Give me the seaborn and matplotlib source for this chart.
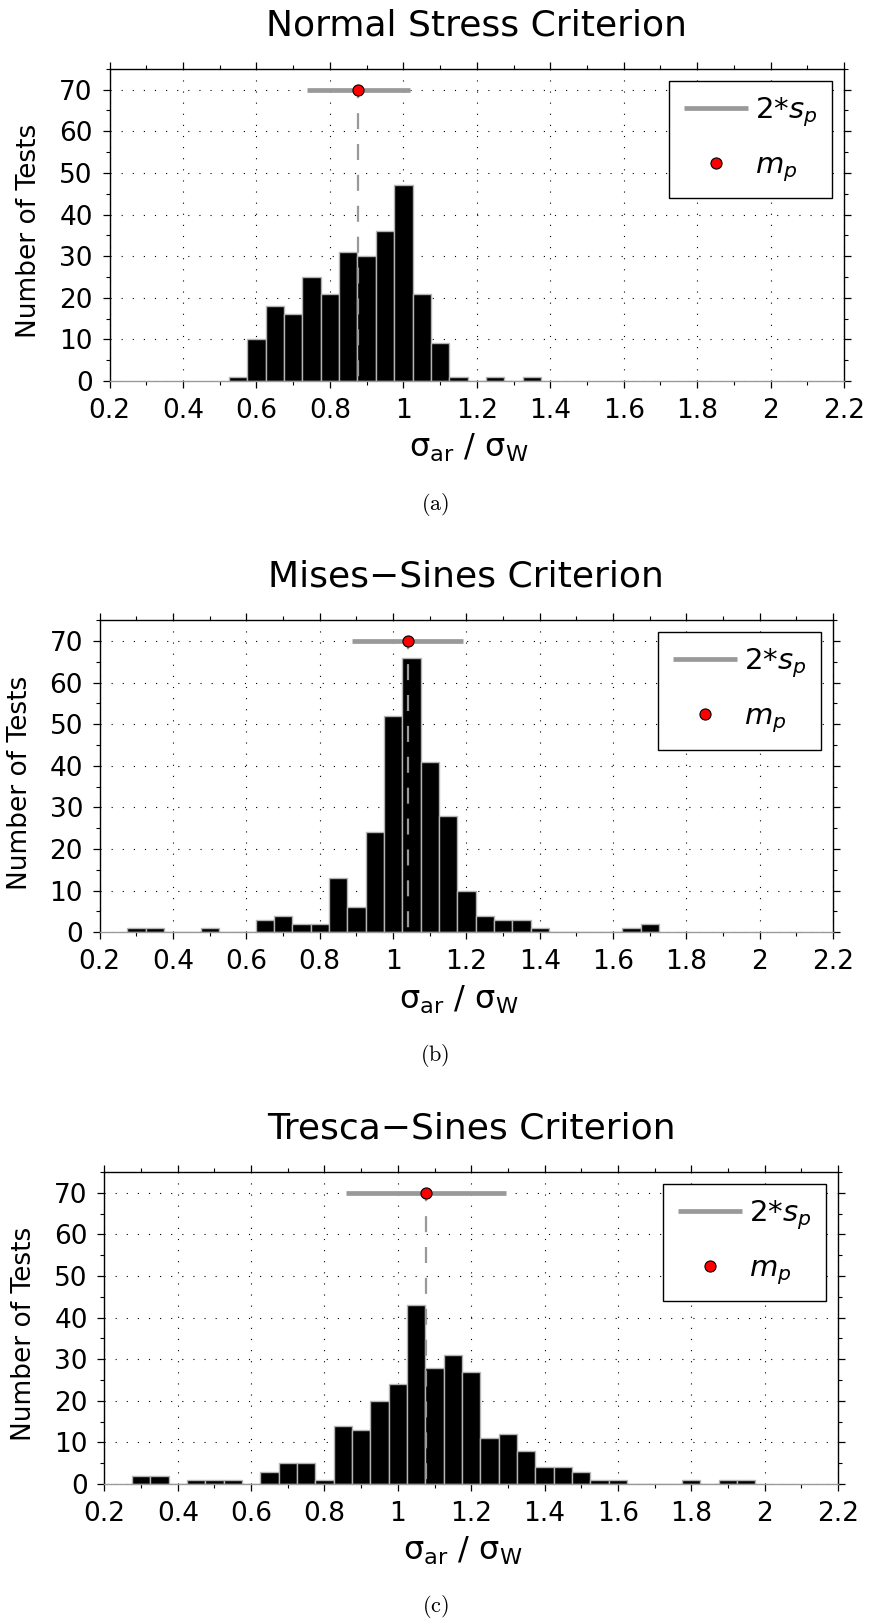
import numpy as np
import pandas as pd
import matplotlib
matplotlib.use("Agg")
import matplotlib.pyplot as plt
import seaborn as sns
from matplotlib.ticker import MultipleLocator, FuncFormatter

# Histogram bins (width 0.05)
normal_centers = [0.55, 0.60, 0.65, 0.70, 0.75, 0.80, 0.85, 0.90, 0.95, 1.00,
                  1.05, 1.10, 1.15, 1.20, 1.25, 1.30, 1.35]
normal_counts = [1, 10, 18, 16, 25, 21, 31, 30, 36, 47, 21, 9, 1, 0, 1, 0, 1]

mises_centers = [0.30, 0.35, 0.40, 0.45, 0.50, 0.55, 0.60, 0.65, 0.70, 0.75,
                 0.80, 0.85, 0.90, 0.95, 1.00, 1.05, 1.10, 1.15, 1.20, 1.25,
                 1.30, 1.35, 1.40, 1.45, 1.50, 1.55, 1.60, 1.65, 1.70]
mises_counts = [1, 1, 0, 0, 1, 0, 0, 3, 4, 2, 2, 13, 6, 24, 52, 66, 41, 28, 10, 4,
                3, 3, 1, 0, 0, 0, 0, 1, 2]

tresca_centers = [0.30, 0.35, 0.40, 0.45, 0.50, 0.55, 0.60, 0.65, 0.70, 0.75,
                  0.80, 0.85, 0.90, 0.95, 1.00, 1.05, 1.10, 1.15, 1.20, 1.25,
                  1.30, 1.35, 1.40, 1.45, 1.50, 1.55, 1.60, 1.65, 1.70, 1.75,
                  1.80, 1.85, 1.90, 1.95]
tresca_counts = [2, 2, 0, 1, 1, 1, 0, 3, 5, 5, 1, 14, 13, 20, 24, 43, 28, 31, 27, 11,
                 12, 8, 4, 4, 3, 1, 1, 0, 0, 0, 1, 0, 1, 1]

# mean m_p and half-length of the 2*s_p bar
means = [0.877, 1.040, 1.076]
spreads = [0.140, 0.151, 0.218]
marker_level = 70

titles = ["Normal Stress Criterion", "Mises\u2212Sines Criterion", "Tresca\u2212Sines Criterion"]
captions = ["a", "b", "c"]

sns.set_style("ticks")
plt.rcParams['font.family'] = ['DejaVu Sans']
plt.rcParams['mathtext.fontset'] = 'dejavusans'
plt.rcParams['text.color'] = 'black'
plt.rcParams['axes.labelcolor'] = 'black'

fig = plt.figure(figsize=(8.7, 16.21), dpi=100)
axes_rects = [[0.1259, 0.7650, 0.8443, 0.1925],
              [0.1146, 0.4249, 0.8429, 0.1925],
              [0.1200, 0.0845, 0.8432, 0.1925]]
caption_y = [0.689, 0.3486, 0.009]

panels = [(normal_centers, normal_counts), (mises_centers, mises_counts),
          (tresca_centers, tresca_counts)]

for i, (centers, counts) in enumerate(panels):
    ax = fig.add_axes(axes_rects[i])
    df = pd.DataFrame({'ratio': centers, 'count': counts})
    edges = [c - 0.025 for c in centers] + [centers[-1] + 0.025]
    sns.histplot(data=df, x='ratio', weights='count', bins=edges, ax=ax,
                 color='black', edgecolor='#b4b4b4', linewidth=1.0, alpha=1)

    m, h = means[i], spreads[i]
    ax.plot([m, m], [marker_level, 0], color='#999999', lw=1.6,
            linestyle=(3.5, (7.2, 6.7)), zorder=3)
    ax.plot([m - h, m + h], [marker_level, marker_level], color='#999999', lw=3.4,
            solid_capstyle='butt', zorder=4, label='2*$s_p$')
    ax.plot([m], [marker_level], 'o', mfc='red', mec='black', ms=8, mew=0.8,
            zorder=5, label='$m_p$')

    ax.set_xlim(0.2, 2.2)
    ax.set_ylim(0, 75)
    ax.xaxis.set_major_locator(MultipleLocator(0.2))
    ax.xaxis.set_minor_locator(MultipleLocator(0.1))
    ax.yaxis.set_major_locator(MultipleLocator(10))
    ax.yaxis.set_minor_locator(MultipleLocator(5))
    ax.xaxis.set_major_formatter(FuncFormatter(lambda v, p: f'{v:g}'))
    ax.tick_params(which='both', direction='out', top=True, right=True,
                   labeltop=False, labelright=False, colors='black')
    ax.tick_params(which='major', length=5, width=0.9, labelsize=19, pad=7)
    ax.tick_params(which='minor', length=3, width=0.8)
    for side in ['left', 'right', 'top']:
        ax.spines[side].set_color('black')
        ax.spines[side].set_linewidth(1.0)
    ax.spines['bottom'].set_color('#9a9a9a')
    ax.spines['bottom'].set_linewidth(1.0)

    ax.set_axisbelow(True)
    ax.grid(True, which='major', color='black', lw=0.8, linestyle=(0, (1, 9)))

    ax.set_xlabel('')
    ax.set_ylabel('')
    ax.text(-0.109, 0.48, 'Number of Tests', transform=ax.transAxes, rotation=90,
            ha='center', va='center', fontsize=19)
    ax.text(0.489, -0.215, '\u03c3$_{\\mathrm{ar}}$ / \u03c3$_{\\mathrm{W}}$',
            transform=ax.transAxes, ha='center', va='center', fontsize=23)
    ax.text(0.5, 1.14, titles[i], transform=ax.transAxes, ha='center', va='center',
            fontsize=26)

    leg = ax.legend(loc='upper right', fontsize=21, frameon=True, fancybox=False,
                    framealpha=1, edgecolor='black', borderaxespad=0.41,
                    handlelength=2.2, handletextpad=0.25, borderpad=0.5,
                    labelspacing=0.75, numpoints=1)
    leg.get_frame().set_linewidth(1.0)

    fig.text(0.5, caption_y[i], r'$(\mathrm{%s})$' % captions[i], ha='center',
             va='center', fontsize=16, math_fontfamily='cm')

fig.savefig('out.png', dpi=100)
plt.close(fig)
